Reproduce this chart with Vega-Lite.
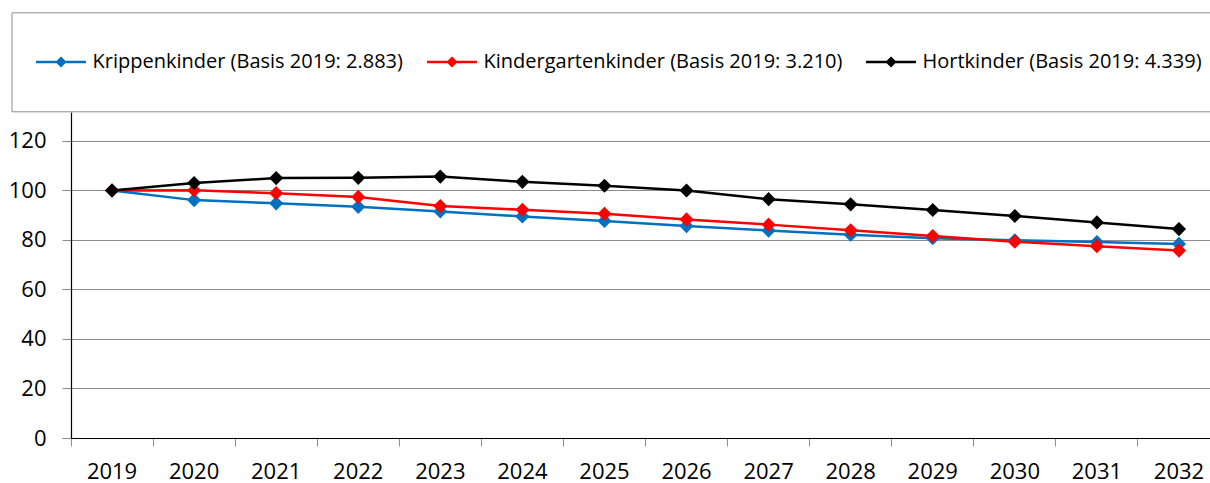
{
  "$schema": "https://vega.github.io/schema/vega-lite/v6.json",
  "width": 1139,
  "height": 326,
  "autosize": "none",
  "padding": {"left": 71, "top": 112, "right": 0, "bottom": 45},
  "background": "white",
  "config": {"view": {"stroke": null}},
  "data": {"values": [
    {"year": "2019", "series": "Krippenkinder (Basis 2019: 2.883)", "value": 100},
    {"year": "2020", "series": "Krippenkinder (Basis 2019: 2.883)", "value": 96.1},
    {"year": "2021", "series": "Krippenkinder (Basis 2019: 2.883)", "value": 94.8},
    {"year": "2022", "series": "Krippenkinder (Basis 2019: 2.883)", "value": 93.4},
    {"year": "2023", "series": "Krippenkinder (Basis 2019: 2.883)", "value": 91.5},
    {"year": "2024", "series": "Krippenkinder (Basis 2019: 2.883)", "value": 89.5},
    {"year": "2025", "series": "Krippenkinder (Basis 2019: 2.883)", "value": 87.7},
    {"year": "2026", "series": "Krippenkinder (Basis 2019: 2.883)", "value": 85.6},
    {"year": "2027", "series": "Krippenkinder (Basis 2019: 2.883)", "value": 83.8},
    {"year": "2028", "series": "Krippenkinder (Basis 2019: 2.883)", "value": 82.1},
    {"year": "2029", "series": "Krippenkinder (Basis 2019: 2.883)", "value": 80.7},
    {"year": "2030", "series": "Krippenkinder (Basis 2019: 2.883)", "value": 79.9},
    {"year": "2031", "series": "Krippenkinder (Basis 2019: 2.883)", "value": 79.2},
    {"year": "2032", "series": "Krippenkinder (Basis 2019: 2.883)", "value": 78.4},
    {"year": "2019", "series": "Kindergartenkinder (Basis 2019: 3.210)", "value": 100},
    {"year": "2020", "series": "Kindergartenkinder (Basis 2019: 3.210)", "value": 100.1},
    {"year": "2021", "series": "Kindergartenkinder (Basis 2019: 3.210)", "value": 98.9},
    {"year": "2022", "series": "Kindergartenkinder (Basis 2019: 3.210)", "value": 97.4},
    {"year": "2023", "series": "Kindergartenkinder (Basis 2019: 3.210)", "value": 93.7},
    {"year": "2024", "series": "Kindergartenkinder (Basis 2019: 3.210)", "value": 92.2},
    {"year": "2025", "series": "Kindergartenkinder (Basis 2019: 3.210)", "value": 90.6},
    {"year": "2026", "series": "Kindergartenkinder (Basis 2019: 3.210)", "value": 88.3},
    {"year": "2027", "series": "Kindergartenkinder (Basis 2019: 3.210)", "value": 86.2},
    {"year": "2028", "series": "Kindergartenkinder (Basis 2019: 3.210)", "value": 83.9},
    {"year": "2029", "series": "Kindergartenkinder (Basis 2019: 3.210)", "value": 81.6},
    {"year": "2030", "series": "Kindergartenkinder (Basis 2019: 3.210)", "value": 79.3},
    {"year": "2031", "series": "Kindergartenkinder (Basis 2019: 3.210)", "value": 77.5},
    {"year": "2032", "series": "Kindergartenkinder (Basis 2019: 3.210)", "value": 75.7},
    {"year": "2019", "series": "Hortkinder (Basis 2019: 4.339)", "value": 100},
    {"year": "2020", "series": "Hortkinder (Basis 2019: 4.339)", "value": 103.0},
    {"year": "2021", "series": "Hortkinder (Basis 2019: 4.339)", "value": 105.0},
    {"year": "2022", "series": "Hortkinder (Basis 2019: 4.339)", "value": 105.1},
    {"year": "2023", "series": "Hortkinder (Basis 2019: 4.339)", "value": 105.6},
    {"year": "2024", "series": "Hortkinder (Basis 2019: 4.339)", "value": 103.5},
    {"year": "2025", "series": "Hortkinder (Basis 2019: 4.339)", "value": 101.9},
    {"year": "2026", "series": "Hortkinder (Basis 2019: 4.339)", "value": 100.0},
    {"year": "2027", "series": "Hortkinder (Basis 2019: 4.339)", "value": 96.5},
    {"year": "2028", "series": "Hortkinder (Basis 2019: 4.339)", "value": 94.4},
    {"year": "2029", "series": "Hortkinder (Basis 2019: 4.339)", "value": 92.1},
    {"year": "2030", "series": "Hortkinder (Basis 2019: 4.339)", "value": 89.7},
    {"year": "2031", "series": "Hortkinder (Basis 2019: 4.339)", "value": 87.1},
    {"year": "2032", "series": "Hortkinder (Basis 2019: 4.339)", "value": 84.4}
  ]},
  "encoding": {
    "x": {
      "field": "year", "type": "ordinal",
      "scale": {"type": "band", "range": [0, 1149], "paddingInner": 0, "paddingOuter": 0},
      "axis": {
        "title": null, "bandPosition": 0, "labelAngle": 0,
        "domainColor": "black", "domainWidth": 1.2,
        "tickColor": "#8c8c8c", "tickSize": 8, "tickWidth": 1,
        "labelFont": "Open Sans", "labelFontSize": 22, "labelColor": "black",
        "labelPadding": 15, "grid": false
      }
    },
    "y": {
      "field": "value", "type": "quantitative",
      "scale": {"domain": [0, 131.7], "nice": false, "zero": true},
      "axis": {
        "title": null, "values": [0, 20, 40, 60, 80, 100, 120],
        "domainColor": "black", "domainWidth": 1.2,
        "grid": true, "gridColor": "#8c8c8c", "gridWidth": 1,
        "tickColor": "#8c8c8c", "tickSize": 9, "tickWidth": 1,
        "labelFont": "Open Sans", "labelFontSize": 22, "labelColor": "black",
        "labelPadding": 16
      }
    },
    "color": {
      "field": "series", "type": "nominal",
      "scale": {
        "domain": ["Krippenkinder (Basis 2019: 2.883)", "Kindergartenkinder (Basis 2019: 3.210)", "Hortkinder (Basis 2019: 4.339)"],
        "range": ["#0070C0", "#FF0000", "#000000"]
      },
      "legend": {
        "orient": "none", "legendX": -59.5, "legendY": -99.7,
        "direction": "horizontal",
        "title": " ", "titleOrient": "bottom", "titleFontSize": 1, "titlePadding": 16,
        "padding": 22, "columnPadding": 18,
        "strokeColor": "#8c8c8c", "fillColor": "white",
        "symbolType": "M-0.96,0H0.96M0,-0.146L0.146,0L0,0.146L-0.146,0Z",
        "symbolSize": 2704, "symbolStrokeWidth": 2.5,
        "labelFont": "Open Sans", "labelFontSize": 20, "labelColor": "black",
        "labelOffset": 4, "labelLimit": 600,
        "encode": {"symbols": {"update": {
          "fill": {"scale": "color", "field": "value"},
          "stroke": {"scale": "color", "field": "value"},
          "strokeWidth": {"value": 2.5},
          "opacity": {"value": 1}
        }}}
      }
    }
  },
  "layer": [
    {"mark": {"type": "line", "strokeWidth": 2.5}},
    {"mark": {"type": "point", "shape": "diamond", "filled": true, "size": 200, "opacity": 1, "strokeWidth": 1}}
  ]
}
